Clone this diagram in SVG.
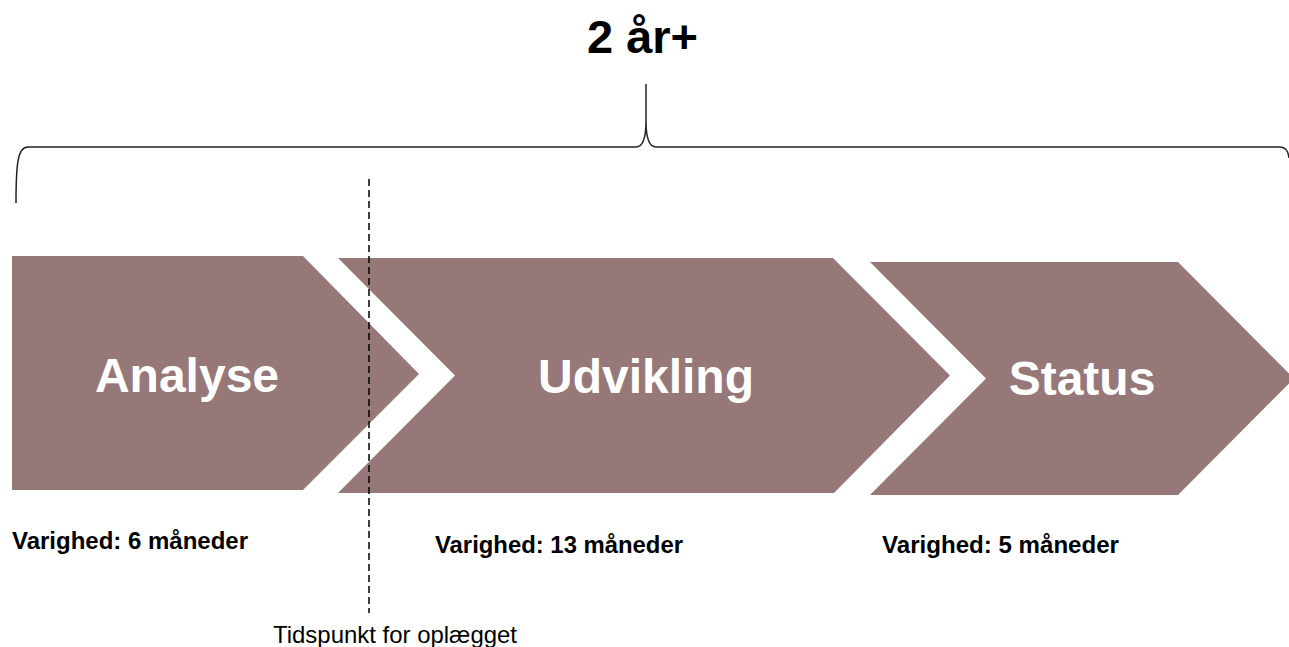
<svg xmlns="http://www.w3.org/2000/svg" width="1289" height="647" viewBox="0 0 1289 647">
<style>
.chev{fill:#967878;}
.big{font-family:"Liberation Sans",Arial,sans-serif;font-weight:bold;font-size:48px;fill:#ffffff;text-anchor:middle;}
.dur{font-family:"Liberation Sans",Arial,sans-serif;font-weight:bold;font-size:24px;fill:#000000;}
.note{font-family:"Liberation Sans",Arial,sans-serif;font-size:24px;fill:#000000;}
.title{font-family:"Liberation Sans",Arial,sans-serif;font-weight:bold;font-size:47px;fill:#000000;text-anchor:middle;}
</style>
<rect x="0" y="0" width="1289" height="647" fill="#ffffff"/>
<text class="title" x="642.5" y="53">2 år+</text>
<g id="brace">
<path d="M16,203 C16,162 18,147 28,147 L636,147 C643,147 646,139 646,121 L646,84 M646,121 C646,139 649,147 656,147 L1279,147 C1286,147 1288,151 1289,158" fill="none" stroke="#222" stroke-width="1.5"/>
</g>
<g id="analyse">
<polygon class="chev" points="12,256 303,256 419,374 303,490 12,490"/>
<text class="big" x="187" y="392">Analyse</text>
</g>
<g id="udvikling">
<polygon class="chev" points="338,258 833,258 950,375.5 834,493 338,493 455,375.5"/>
<text class="big" x="646" y="393">Udvikling</text>
</g>
<g id="status">
<polygon class="chev" points="870,262 1178,262 1294,378.5 1178,495 870,495 986,378.5"/>
<text class="big" x="1082" y="395">Status</text>
</g>
<g id="connectors">
<line x1="369" y1="179" x2="369" y2="613" stroke="#000" stroke-width="1.5" stroke-dasharray="7 4"/>
</g>
<g id="labels">
<text class="dur" x="12" y="549" textLength="236" lengthAdjust="spacingAndGlyphs">Varighed: 6 måneder</text>
<text class="dur" x="435" y="553" textLength="248" lengthAdjust="spacingAndGlyphs">Varighed: 13 måneder</text>
<text class="dur" x="882" y="553" textLength="237" lengthAdjust="spacingAndGlyphs">Varighed: 5 måneder</text>
<text class="note" x="273" y="643" textLength="244" lengthAdjust="spacingAndGlyphs">Tidspunkt for oplægget</text>
</g>
</svg>
